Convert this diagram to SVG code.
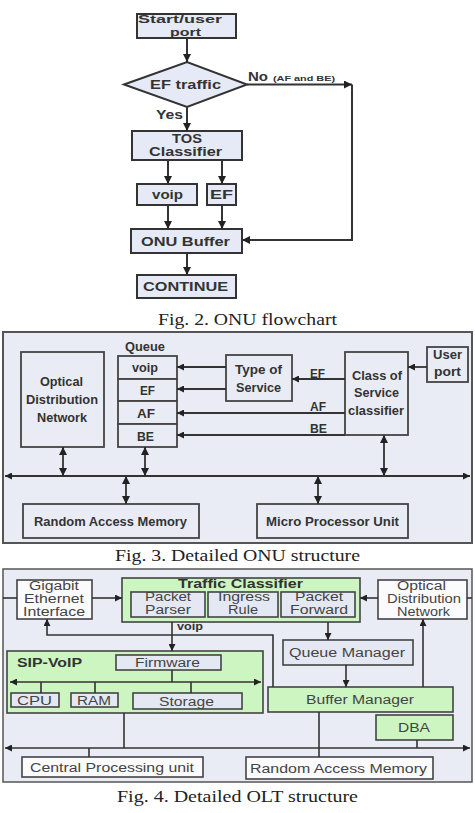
<svg xmlns="http://www.w3.org/2000/svg" width="475" height="813" viewBox="0 0 475 813">
<style>
.bg{fill:#ffffff}
.fcb{fill:#e6eaf6;stroke:#333;stroke-width:2}
.ft{font-family:"Liberation Sans",Arial,sans-serif;font-weight:bold;font-size:12px;fill:#333}
.fts{font-family:"Liberation Sans",Arial,sans-serif;font-weight:bold;font-size:7px;fill:#333}
.fl{fill:none;stroke:#333;stroke-width:2}
.panel{fill:#e9ecf4;stroke:#555;stroke-width:2}
.b3{fill:#e9ecf4;stroke:#444;stroke-width:1.8}
.t3{font-family:"Liberation Sans",Arial,sans-serif;font-weight:bold;font-size:13px;fill:#333}
.l3{fill:none;stroke:#333;stroke-width:1.8}
.panel4{fill:#e9ecf4;stroke:#555;stroke-width:1.5}
.wb{fill:#fbfbfd;stroke:#444;stroke-width:1.6}
.gb{fill:#ccf5c2;stroke:#444;stroke-width:1.6}
.sb{fill:#e4e8f2;stroke:#444;stroke-width:1.6}
.t4{font-family:"Liberation Sans",Arial,sans-serif;font-size:12.5px;fill:#444}
.t4b{font-family:"Liberation Sans",Arial,sans-serif;font-weight:bold;font-size:12.5px;fill:#333}
.l4{fill:none;stroke:#333;stroke-width:1.6}
.cap{font-family:"Liberation Serif","Times New Roman",serif;font-size:17px;fill:#222}
</style>
<defs>
<marker id="a" viewBox="0 0 10 10" refX="10" refY="5" markerWidth="9" markerHeight="8" markerUnits="userSpaceOnUse" orient="auto-start-reverse"><path d="M0,0 L10,5 L0,10 z" fill="#222"/></marker>
<marker id="d" viewBox="0 0 10 10" refX="10" refY="5" markerWidth="12" markerHeight="8" markerUnits="userSpaceOnUse" orient="auto-start-reverse"><path d="M0,0 L10,5 L0,10 z" fill="#222"/></marker>
<marker id="s" viewBox="0 0 10 10" refX="10" refY="5" markerWidth="9" markerHeight="7" markerUnits="userSpaceOnUse" orient="auto-start-reverse"><path d="M0,0 L10,5 L0,10 z" fill="#222"/></marker>
</defs>
<rect class="bg" x="0" y="0" width="475" height="813"/>

<!-- Fig 2 -->
<g id="fc-start"><rect class="fcb" x="137" y="14" width="99" height="24"/>
<text class="ft" x="138" y="23" textLength="84" lengthAdjust="spacingAndGlyphs" style="font-size:10.5px">Start/user</text>
<text class="ft" x="170" y="35.5" textLength="31" lengthAdjust="spacingAndGlyphs" style="font-size:10.5px">port</text></g>
<g id="fc-ef"><polygon class="fcb" points="124,84.5 187,62 247,84.5 187,107"/>
<text class="ft" x="150" y="88.5" textLength="71" lengthAdjust="spacingAndGlyphs">EF traffic</text></g>
<g id="fc-tos"><rect class="fcb" x="132" y="131" width="110" height="29"/>
<text class="ft" x="172" y="143" textLength="30" lengthAdjust="spacingAndGlyphs">TOS</text>
<text class="ft" x="149" y="156" textLength="73" lengthAdjust="spacingAndGlyphs">Classifier</text></g>
<g id="fc-voip"><rect class="fcb" x="137" y="184" width="60" height="21"/>
<text class="ft" x="152" y="198.5" textLength="31" lengthAdjust="spacingAndGlyphs">voip</text></g>
<g id="fc-efb"><rect class="fcb" x="207" y="184" width="29" height="21"/>
<text class="ft" x="210" y="198.5" textLength="23" lengthAdjust="spacingAndGlyphs">EF</text></g>
<g id="fc-onu"><rect class="fcb" x="131" y="229" width="111" height="24"/>
<text class="ft" x="141" y="245.5" textLength="89" lengthAdjust="spacingAndGlyphs">ONU Buffer</text></g>
<g id="fc-cont"><rect class="fcb" x="137" y="275" width="99" height="23"/>
<text class="ft" x="143" y="291" textLength="85" lengthAdjust="spacingAndGlyphs">CONTINUE</text></g>
<g id="fc-connectors">
<path class="fl" d="M187,38 V62" marker-end="url(#a)"/>
<path class="fl" d="M187,107 V131" marker-end="url(#a)"/>
<path class="fl" d="M247,84.5 H352" marker-end="url(#a)"/>
<path class="fl" d="M352,84.5 V240 H242" marker-end="url(#a)"/>
<path class="fl" d="M168,160 V184" marker-end="url(#a)"/>
<path class="fl" d="M222,160 V184" marker-end="url(#a)"/>
<path class="fl" d="M168,205 V229" marker-end="url(#a)"/>
<path class="fl" d="M222,205 V229" marker-end="url(#a)"/>
<path class="fl" d="M187,253 V275" marker-end="url(#a)"/>
<text class="ft" x="248" y="81" textLength="20" lengthAdjust="spacingAndGlyphs">No</text>
<text class="fts" x="273" y="80.5" textLength="62" lengthAdjust="spacingAndGlyphs">(AF and BE)</text>
<text class="ft" x="156" y="119" textLength="27" lengthAdjust="spacingAndGlyphs">Yes</text>
</g>
<text class="cap" x="158" y="325" textLength="179" lengthAdjust="spacingAndGlyphs">Fig. 2. ONU flowchart</text>

<!-- Fig 3 -->
<rect class="panel" x="3" y="332" width="469" height="211"/>
<g id="onu-odn"><rect class="b3" x="21" y="352" width="83" height="95"/>
<text class="t3" x="40" y="386" textLength="43" lengthAdjust="spacingAndGlyphs">Optical</text>
<text class="t3" x="26" y="404" textLength="72" lengthAdjust="spacingAndGlyphs">Distribution</text>
<text class="t3" x="37" y="422" textLength="50" lengthAdjust="spacingAndGlyphs">Network</text></g>
<g id="onu-queue">
<text class="t3" x="125" y="351" textLength="40" lengthAdjust="spacingAndGlyphs">Queue</text>
<rect class="b3" x="118" y="356" width="59" height="23"/>
<rect class="b3" x="118" y="379" width="59" height="22"/>
<rect class="b3" x="118" y="401" width="59" height="23"/>
<rect class="b3" x="118" y="424" width="59" height="23"/>
<text class="t3" x="132" y="372" textLength="26" lengthAdjust="spacingAndGlyphs">voip</text>
<text class="t3" x="140" y="395" textLength="15" lengthAdjust="spacingAndGlyphs">EF</text>
<text class="t3" x="137" y="418" textLength="18" lengthAdjust="spacingAndGlyphs">AF</text>
<text class="t3" x="137" y="441" textLength="17" lengthAdjust="spacingAndGlyphs">BE</text></g>
<g id="onu-tos"><rect class="b3" x="226" y="355" width="66" height="46"/>
<text class="t3" x="235" y="374" textLength="47" lengthAdjust="spacingAndGlyphs">Type of</text>
<text class="t3" x="236" y="392" textLength="45" lengthAdjust="spacingAndGlyphs">Service</text></g>
<g id="onu-cos"><rect class="b3" x="345" y="352" width="63" height="83"/>
<text class="t3" x="352" y="380" textLength="50" lengthAdjust="spacingAndGlyphs">Class of</text>
<text class="t3" x="354" y="397" textLength="45" lengthAdjust="spacingAndGlyphs">Service</text>
<text class="t3" x="348" y="415" textLength="56" lengthAdjust="spacingAndGlyphs">classifier</text></g>
<g id="onu-user"><rect class="b3" x="427" y="347" width="41" height="35"/>
<text class="t3" x="433" y="359" textLength="29" lengthAdjust="spacingAndGlyphs">User</text>
<text class="t3" x="434" y="376" textLength="27" lengthAdjust="spacingAndGlyphs">port</text></g>
<g id="onu-ram"><rect class="b3" x="23" y="504" width="176" height="34"/>
<text class="t3" x="34" y="526" textLength="153" lengthAdjust="spacingAndGlyphs">Random Access Memory</text></g>
<g id="onu-mpu"><rect class="b3" x="257" y="504" width="151" height="34"/>
<text class="t3" x="266" y="526" textLength="133" lengthAdjust="spacingAndGlyphs">Micro  Processor Unit</text></g>
<g id="onu-connectors">
<path class="l3" d="M226,367 H177" marker-end="url(#s)"/>
<path class="l3" d="M226,389 H177" marker-end="url(#s)"/>
<path class="l3" d="M345,379 H292" marker-end="url(#s)"/>
<path class="l3" d="M345,413 H177" marker-end="url(#s)"/>
<path class="l3" d="M345,435 H177" marker-end="url(#s)"/>
<path class="l3" d="M427,367 H408" marker-end="url(#s)"/>
<path class="l3" d="M5,476 H470" marker-start="url(#s)" marker-end="url(#s)"/>
<path class="l3" d="M63,447 V476" marker-start="url(#d)" marker-end="url(#d)"/>
<path class="l3" d="M145,447 V476" marker-start="url(#d)" marker-end="url(#d)"/>
<path class="l3" d="M384,435 V476" marker-start="url(#d)" marker-end="url(#d)"/>
<path class="l3" d="M126,476 V504" marker-start="url(#d)" marker-end="url(#d)"/>
<path class="l3" d="M318,476 V504" marker-start="url(#d)" marker-end="url(#d)"/>
<text class="t3" x="310" y="378" textLength="15" lengthAdjust="spacingAndGlyphs">EF</text>
<text class="t3" x="310" y="411" textLength="16" lengthAdjust="spacingAndGlyphs">AF</text>
<text class="t3" x="310" y="433" textLength="17" lengthAdjust="spacingAndGlyphs">BE</text>
</g>
<text class="cap" x="115" y="561" textLength="245" lengthAdjust="spacingAndGlyphs">Fig. 3. Detailed ONU structure</text>

<!-- Fig 4 -->
<rect class="panel4" x="3" y="569" width="469" height="213"/>
<g id="olt-gei"><rect class="wb" x="17" y="580" width="75" height="39"/>
<text class="t4" x="29" y="590" textLength="50" lengthAdjust="spacingAndGlyphs">Gigabit</text>
<text class="t4" x="24" y="603" textLength="60" lengthAdjust="spacingAndGlyphs">Ethernet</text>
<text class="t4" x="23" y="616" textLength="62" lengthAdjust="spacingAndGlyphs">Interface</text></g>
<g id="olt-tc"><rect class="gb" x="122" y="578" width="238" height="44"/>
<text class="t4b" x="178" y="588" textLength="125" lengthAdjust="spacingAndGlyphs">Traffic Classifier</text>
<rect class="sb" x="131" y="592" width="74" height="25"/>
<text class="t4" x="145" y="601" textLength="46" lengthAdjust="spacingAndGlyphs">Packet</text>
<text class="t4" x="145" y="614" textLength="46" lengthAdjust="spacingAndGlyphs">Parser</text>
<rect class="sb" x="208" y="592" width="70" height="25"/>
<text class="t4" x="218" y="601" textLength="52" lengthAdjust="spacingAndGlyphs">Ingress</text>
<text class="t4" x="228" y="614" textLength="30" lengthAdjust="spacingAndGlyphs">Rule</text>
<rect class="sb" x="281" y="592" width="74" height="25"/>
<text class="t4" x="295" y="601" textLength="48" lengthAdjust="spacingAndGlyphs">Packet</text>
<text class="t4" x="290" y="614" textLength="58" lengthAdjust="spacingAndGlyphs">Forward</text></g>
<g id="olt-odn"><rect class="wb" x="378" y="580" width="89" height="39"/>
<text class="t4" x="397" y="590" textLength="49" lengthAdjust="spacingAndGlyphs">Optical</text>
<text class="t4" x="387" y="603" textLength="74" lengthAdjust="spacingAndGlyphs">Distribution</text>
<text class="t4" x="397" y="616" textLength="53" lengthAdjust="spacingAndGlyphs">Network</text></g>
<g id="olt-qm"><rect class="sb" x="283" y="640" width="130" height="25"/>
<text class="t4" x="289" y="657" textLength="116" lengthAdjust="spacingAndGlyphs">Queue Manager</text></g>
<g id="olt-sip"><rect class="gb" x="7" y="651" width="256" height="62"/>
<text class="t4b" x="17" y="667" textLength="65" lengthAdjust="spacingAndGlyphs">SIP-VoIP</text>
<rect class="sb" x="116" y="655" width="105" height="15"/>
<text class="t4" x="135" y="666.5" textLength="65" lengthAdjust="spacingAndGlyphs">Firmware</text>
<rect class="sb" x="11" y="693" width="48" height="14"/>
<text class="t4" x="17" y="704.5" textLength="35" lengthAdjust="spacingAndGlyphs">CPU</text>
<rect class="sb" x="71" y="693" width="47" height="14"/>
<text class="t4" x="77" y="704.5" textLength="34" lengthAdjust="spacingAndGlyphs">RAM</text>
<rect class="sb" x="133" y="693" width="109" height="16"/>
<text class="t4" x="159" y="705.5" textLength="55" lengthAdjust="spacingAndGlyphs">Storage</text></g>
<g id="olt-bm"><rect class="gb" x="268" y="687" width="185" height="25"/>
<text class="t4" x="306" y="703.5" textLength="108" lengthAdjust="spacingAndGlyphs">Buffer Manager</text></g>
<g id="olt-dba"><rect class="gb" x="376" y="715" width="77" height="25"/>
<text class="t4" x="398" y="731.5" textLength="32" lengthAdjust="spacingAndGlyphs">DBA</text></g>
<g id="olt-cpu"><rect class="wb" x="22" y="757" width="181" height="20"/>
<text class="t4" x="30" y="771.5" textLength="164" lengthAdjust="spacingAndGlyphs">Central Processing unit</text></g>
<g id="olt-ram"><rect class="wb" x="246" y="757" width="187" height="22"/>
<text class="t4" x="250" y="772.5" textLength="177" lengthAdjust="spacingAndGlyphs">Random Access Memory</text></g>
<g id="olt-connectors">
<path class="l4" d="M3,598 H17"/>
<path class="l4" d="M92,598 H122" marker-end="url(#s)"/>
<path class="l4" d="M472,598 H467"/>
<path class="l4" d="M378,598 H360" marker-end="url(#s)"/>
<path class="l4" d="M328,622 V640" marker-end="url(#s)"/>
<path class="l4" d="M346,665 V687" marker-end="url(#s)"/>
<path class="l4" d="M423,687 V619" marker-end="url(#s)"/>
<path class="l4" d="M172,622 V651" marker-end="url(#s)"/>
<text class="t4b" x="177" y="630" textLength="26" lengthAdjust="spacingAndGlyphs" style="font-size:10px">voip</text>
<path class="l4" d="M273,687 V635 H47 V619" marker-end="url(#s)"/>
<path class="l4" d="M172,670 V682"/>
<path class="l4" d="M10,682 H261" marker-start="url(#s)" marker-end="url(#s)"/>
<path class="l4" d="M41,682 V693 M95,682 V693 M191,682 V693"/>
<path class="l4" d="M124,713 V748"/>
<path class="l4" d="M319,712 V757"/>
<path class="l4" d="M417,740 V748"/>
<path class="l4" d="M89,748 V757"/>
<path class="l4" d="M5,748 H470" marker-start="url(#s)" marker-end="url(#s)"/>
</g>
<text class="cap" x="117" y="802" textLength="241" lengthAdjust="spacingAndGlyphs">Fig. 4. Detailed OLT structure</text>
</svg>
